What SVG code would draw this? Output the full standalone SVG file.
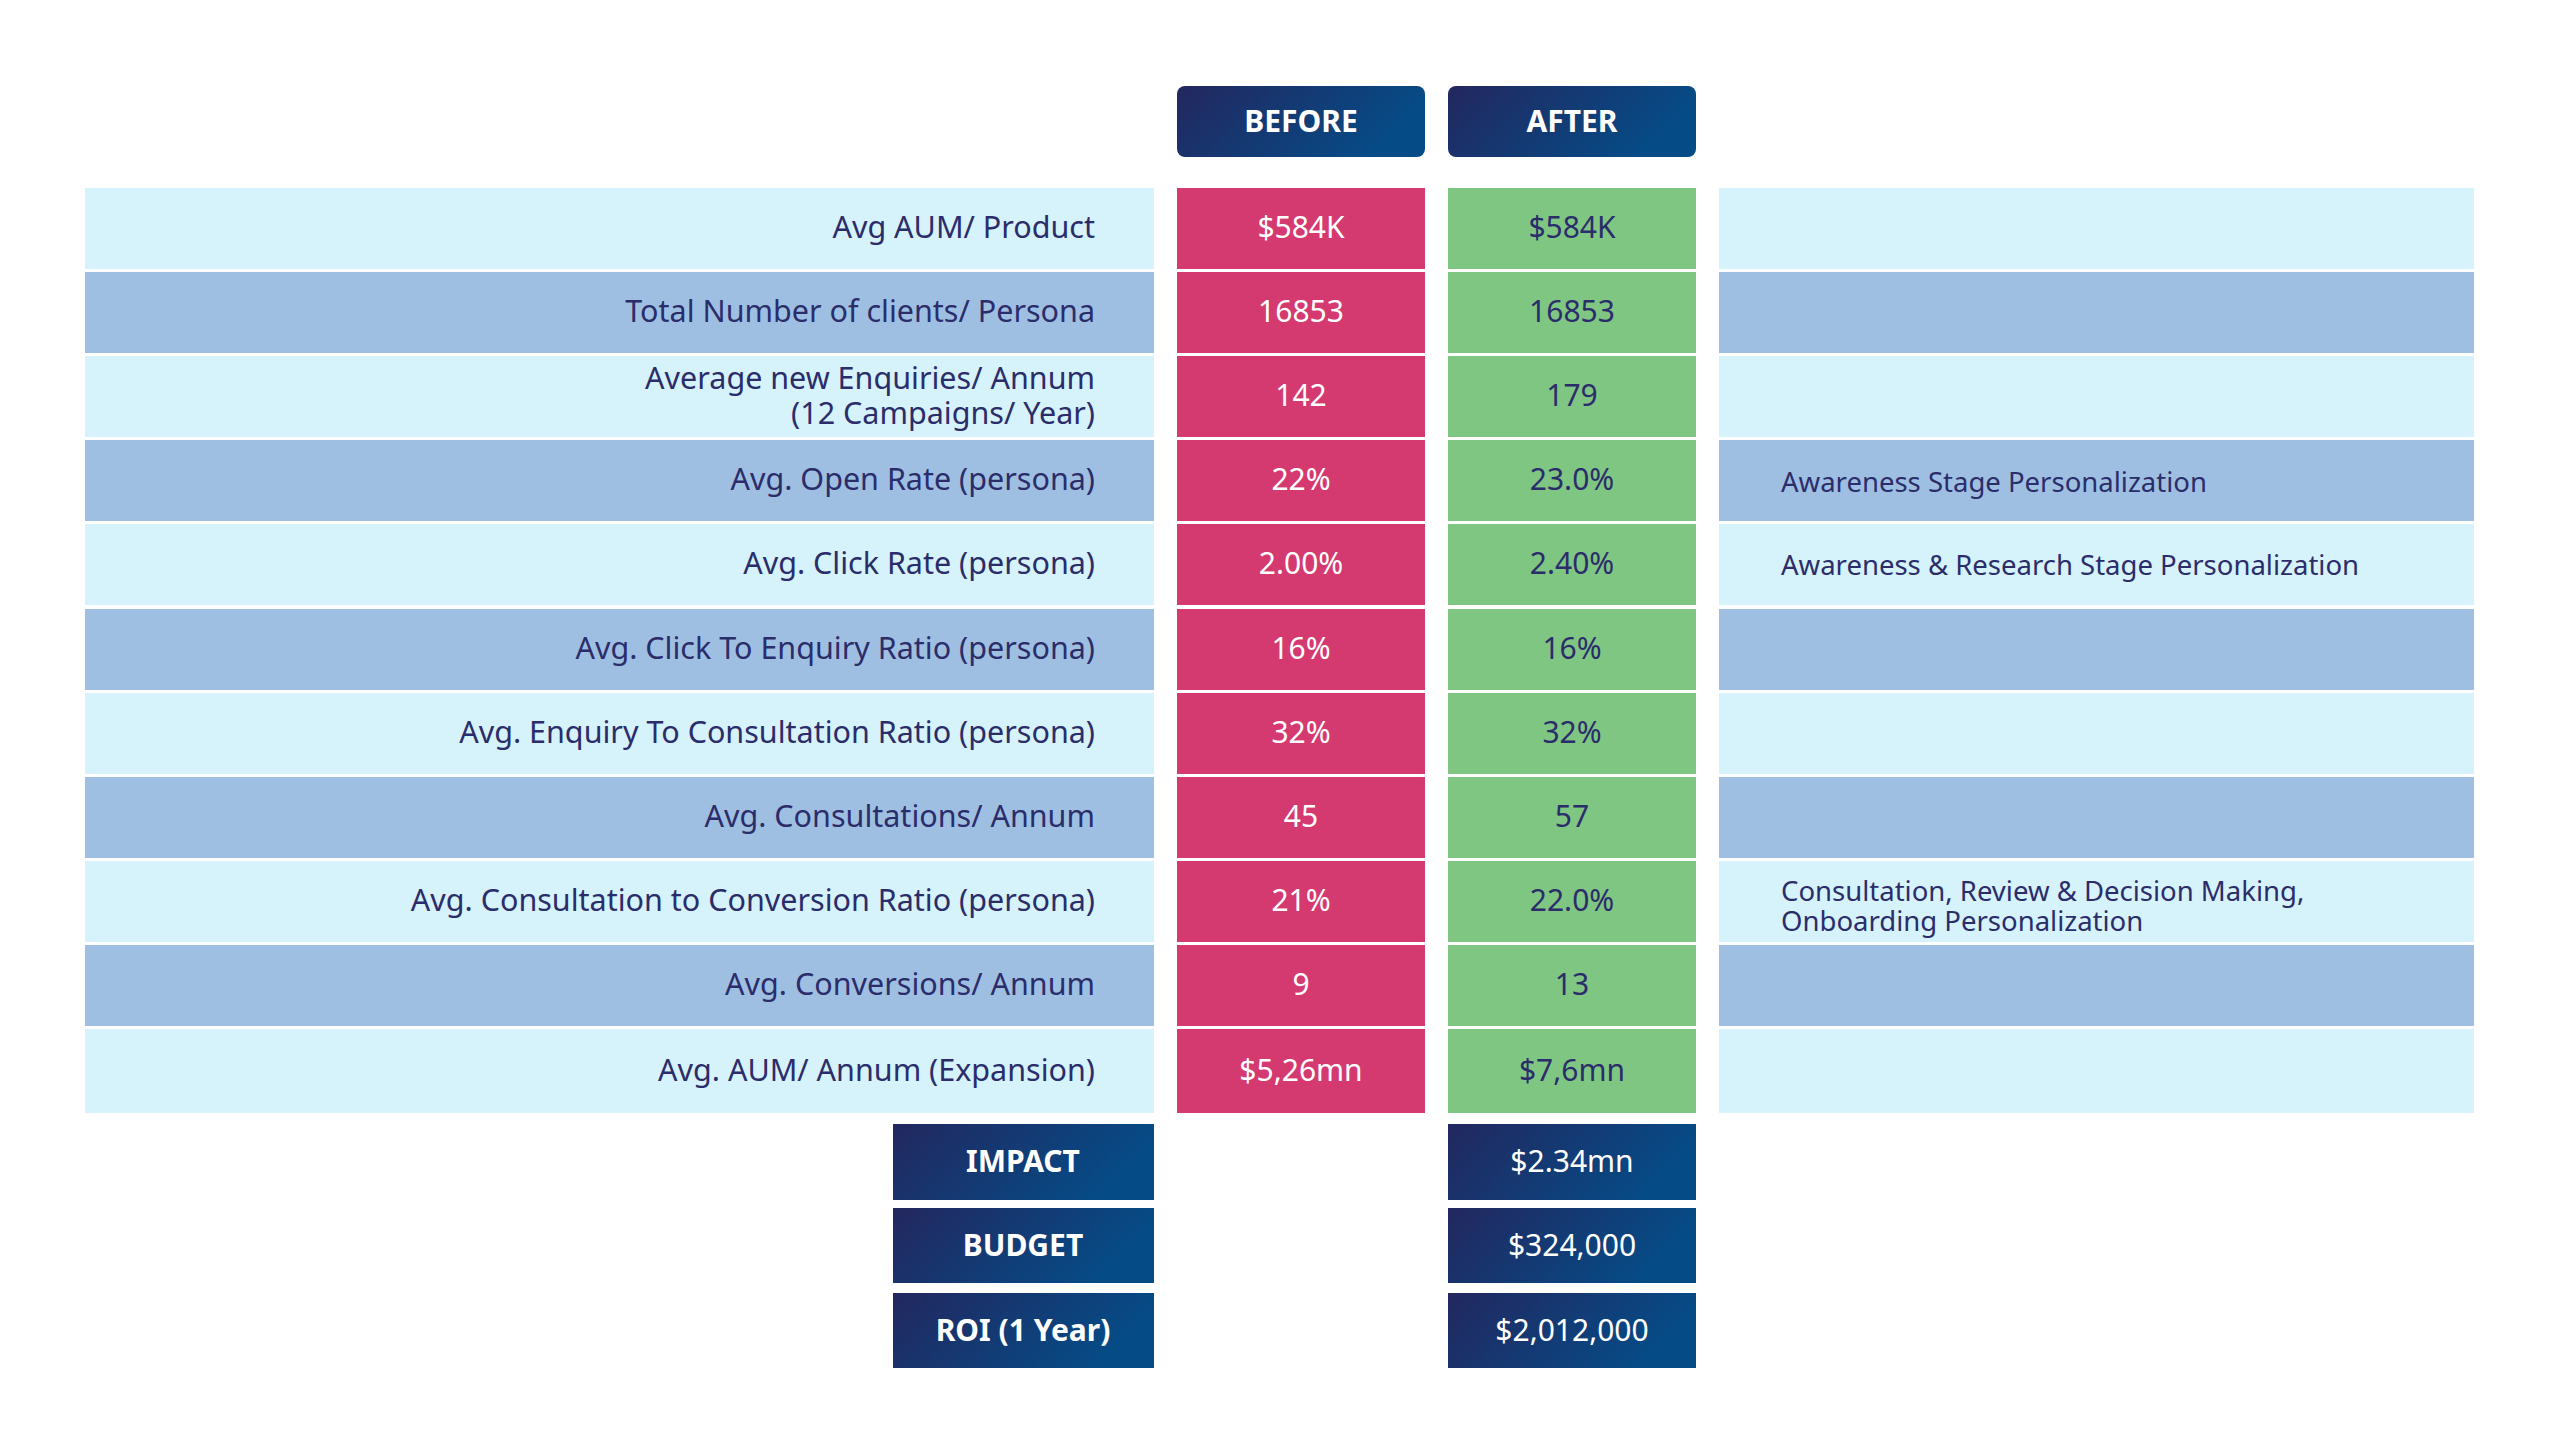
<svg xmlns="http://www.w3.org/2000/svg" width="2560" height="1455" viewBox="0 0 2560 1455">
<defs>
<linearGradient id="nv" x1="0" y1="0" x2="1" y2="0.3"><stop offset="0" stop-color="#23275f"/><stop offset="1" stop-color="#054c87"/></linearGradient>
<style>
text{font-family:"Noto Sans","Open Sans",sans-serif;font-size:30px;fill:#2b2d6b}
.lb{font-size:30.5px}
.l{text-anchor:end}.c{text-anchor:middle}.w{fill:#fff}.b{font-weight:bold;fill:#fff}.n{font-size:27.5px}
.r1{fill:#d6f2fa}.r2{fill:#9fbfe2}.pk{fill:#d4396f}.gr{fill:#80c683}.nv{fill:url(#nv)}
</style>
</defs>
<rect width="2560" height="1455" fill="#fff"/>
<g id="headers">
<rect class="nv" x="1177" y="86" width="248" height="71" rx="8"/><text class="b c" x="1301" y="132">BEFORE</text>
<rect class="nv" x="1448" y="86" width="248" height="71" rx="8"/><text class="b c" x="1572" y="132">AFTER</text>
</g>
<g id="rows">
<rect class="r1" x="85" y="188" width="1069" height="81"/><rect class="pk" x="1177" y="188" width="248" height="81"/><rect class="gr" x="1448" y="188" width="248" height="81"/><rect class="r1" x="1719" y="188" width="755" height="81"/>
<text class="l lb" x="1095" y="238">Avg AUM/ Product</text><text class="c w" x="1301" y="238">$584K</text><text class="c" x="1572" y="238">$584K</text>
<rect class="r2" x="85" y="272" width="1069" height="81"/><rect class="pk" x="1177" y="272" width="248" height="81"/><rect class="gr" x="1448" y="272" width="248" height="81"/><rect class="r2" x="1719" y="272" width="755" height="81"/>
<text class="l lb" x="1095" y="322">Total Number of clients/ Persona</text><text class="c w" x="1301" y="322">16853</text><text class="c" x="1572" y="322">16853</text>
<rect class="r1" x="85" y="356" width="1069" height="81"/><rect class="pk" x="1177" y="356" width="248" height="81"/><rect class="gr" x="1448" y="356" width="248" height="81"/><rect class="r1" x="1719" y="356" width="755" height="81"/>
<text class="l lb" x="1095" y="389">Average new Enquiries/ Annum</text><text class="l lb" x="1095" y="424">(12 Campaigns/ Year)</text><text class="c w" x="1301" y="406">142</text><text class="c" x="1572" y="406">179</text>
<rect class="r2" x="85" y="440" width="1069" height="81"/><rect class="pk" x="1177" y="440" width="248" height="81"/><rect class="gr" x="1448" y="440" width="248" height="81"/><rect class="r2" x="1719" y="440" width="755" height="81"/>
<text class="l lb" x="1095" y="490">Avg. Open Rate (persona)</text><text class="c w" x="1301" y="490">22%</text><text class="c" x="1572" y="490">23.0%</text><text class="n" x="1781" y="492">Awareness Stage Personalization</text>
<rect class="r1" x="85" y="524" width="1069" height="81"/><rect class="pk" x="1177" y="524" width="248" height="81"/><rect class="gr" x="1448" y="524" width="248" height="81"/><rect class="r1" x="1719" y="524" width="755" height="81"/>
<text class="l lb" x="1095" y="574">Avg. Click Rate (persona)</text><text class="c w" x="1301" y="574">2.00%</text><text class="c" x="1572" y="574">2.40%</text><text class="n" x="1781" y="575">Awareness &amp; Research Stage Personalization</text>
<rect class="r2" x="85" y="609" width="1069" height="81"/><rect class="pk" x="1177" y="609" width="248" height="81"/><rect class="gr" x="1448" y="609" width="248" height="81"/><rect class="r2" x="1719" y="609" width="755" height="81"/>
<text class="l lb" x="1095" y="659">Avg. Click To Enquiry Ratio (persona)</text><text class="c w" x="1301" y="659">16%</text><text class="c" x="1572" y="659">16%</text>
<rect class="r1" x="85" y="693" width="1069" height="81"/><rect class="pk" x="1177" y="693" width="248" height="81"/><rect class="gr" x="1448" y="693" width="248" height="81"/><rect class="r1" x="1719" y="693" width="755" height="81"/>
<text class="l lb" x="1095" y="743">Avg. Enquiry To Consultation Ratio (persona)</text><text class="c w" x="1301" y="743">32%</text><text class="c" x="1572" y="743">32%</text>
<rect class="r2" x="85" y="777" width="1069" height="81"/><rect class="pk" x="1177" y="777" width="248" height="81"/><rect class="gr" x="1448" y="777" width="248" height="81"/><rect class="r2" x="1719" y="777" width="755" height="81"/>
<text class="l lb" x="1095" y="827">Avg. Consultations/ Annum</text><text class="c w" x="1301" y="827">45</text><text class="c" x="1572" y="827">57</text>
<rect class="r1" x="85" y="861" width="1069" height="81"/><rect class="pk" x="1177" y="861" width="248" height="81"/><rect class="gr" x="1448" y="861" width="248" height="81"/><rect class="r1" x="1719" y="861" width="755" height="81"/>
<text class="l lb" x="1095" y="911">Avg. Consultation to Conversion Ratio (persona)</text><text class="c w" x="1301" y="911">21%</text><text class="c" x="1572" y="911">22.0%</text><text class="n" x="1781" y="901">Consultation, Review &amp; Decision Making,</text><text class="n" x="1781" y="931">Onboarding Personalization</text>
<rect class="r2" x="85" y="945" width="1069" height="81"/><rect class="pk" x="1177" y="945" width="248" height="81"/><rect class="gr" x="1448" y="945" width="248" height="81"/><rect class="r2" x="1719" y="945" width="755" height="81"/>
<text class="l lb" x="1095" y="995">Avg. Conversions/ Annum</text><text class="c w" x="1301" y="995">9</text><text class="c" x="1572" y="995">13</text>
<rect class="r1" x="85" y="1029" width="1069" height="84"/><rect class="pk" x="1177" y="1029" width="248" height="84"/><rect class="gr" x="1448" y="1029" width="248" height="84"/><rect class="r1" x="1719" y="1029" width="755" height="84"/>
<text class="l lb" x="1095" y="1081">Avg. AUM/ Annum (Expansion)</text><text class="c w" x="1301" y="1081">$5,26mn</text><text class="c" x="1572" y="1081">$7,6mn</text>
</g>
<g id="summary">
<rect class="nv" x="893" y="1124" width="261" height="76"/><text class="b c" x="1023" y="1172">IMPACT</text>
<rect class="nv" x="1448" y="1124" width="248" height="76"/><text class="c w" x="1572" y="1172">$2.34mn</text>
<rect class="nv" x="893" y="1208" width="261" height="75"/><text class="b c" x="1023" y="1256">BUDGET</text>
<rect class="nv" x="1448" y="1208" width="248" height="75"/><text class="c w" x="1572" y="1256">$324,000</text>
<rect class="nv" x="893" y="1293" width="261" height="75"/><text class="b c" x="1023" y="1341">ROI (1 Year)</text>
<rect class="nv" x="1448" y="1293" width="248" height="75"/><text class="c w" x="1572" y="1341">$2,012,000</text>
</g>
</svg>
